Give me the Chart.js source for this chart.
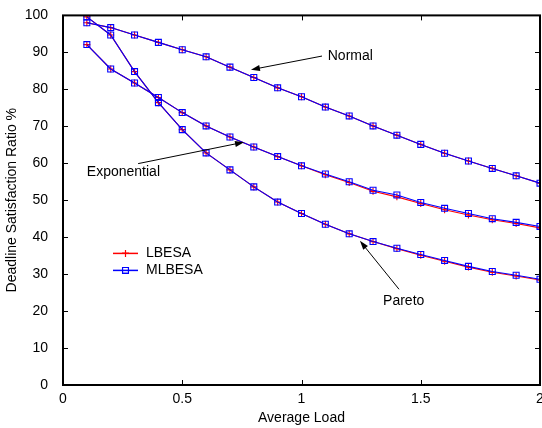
<!DOCTYPE html>
<html>
<head>
<meta charset="utf-8">
<script src="https://cdn.jsdelivr.net/npm/chart.js@4"></script>
<style>
  html, body { margin: 0; padding: 0; background: #fff; overflow: hidden; }
  #wrap { width: 542px; height: 428px; overflow: hidden; }
</style>
</head>
<body>
<div id="wrap"><canvas id="chart" width="552" height="428"></canvas></div>
<script>
'use strict';

// Charge moyenne (axe X)
const loads = [0.1, 0.2, 0.3, 0.4, 0.5, 0.6, 0.7, 0.8, 0.9, 1.0,
               1.1, 1.2, 1.3, 1.4, 1.5, 1.6, 1.7, 1.8, 1.9, 2.0];

// Distribution normale
const normalLbesa  = [98.0, 96.7, 94.7, 92.7, 90.7, 88.8, 86.0, 83.2, 80.4, 78.0,
                      75.2, 72.8, 70.1, 67.6, 65.1, 62.7, 60.6, 58.6, 56.6, 54.6];
const normalMlbesa = [98.0, 96.7, 94.7, 92.7, 90.7, 88.8, 86.0, 83.2, 80.4, 78.0,
                      75.2, 72.8, 70.1, 67.6, 65.1, 62.7, 60.6, 58.6, 56.6, 54.6];

// Distribution exponentielle
const expLbesa  = [92.1, 85.5, 81.7, 77.8, 73.7, 70.1, 67.1, 64.4, 61.8, 59.3,
                   56.9, 54.8, 52.4, 50.9, 49.1, 47.4, 46.0, 44.7, 43.7, 42.5];
const expMlbesa = [92.1, 85.5, 81.7, 77.8, 73.7, 70.1, 67.1, 64.4, 61.8, 59.3,
                   57.1, 55.0, 52.7, 51.4, 49.4, 47.8, 46.4, 45.0, 44.0, 42.9];

// Distribution de Pareto
const paretoLbesa  = [99.6, 94.7, 84.8, 76.4, 69.1, 62.8, 58.2, 53.6, 49.5, 46.4,
                      43.5, 40.9, 38.8, 36.9, 35.1, 33.5, 31.9, 30.5, 29.5, 28.4];
const paretoMlbesa = [99.6, 94.7, 84.8, 76.4, 69.1, 62.8, 58.2, 53.6, 49.5, 46.4,
                      43.5, 40.9, 38.8, 37.0, 35.3, 33.7, 32.1, 30.7, 29.7, 28.6];

// Ticks des axes
const xTicks = [0, 0.5, 1, 1.5, 2];
const yTicks = [0, 10, 20, 30, 40, 50, 60, 70, 80, 90, 100];

const FONT = '"Liberation Sans", Arial, Helvetica, sans-serif';
const RED = '#ff0000';
const BLUE = '#0000ff';

// Annotations (coordonnées en unités des données)
const notes = [
  { text: 'Normal',      at: [1.11, 88.9],  from: [1.086, 89.0], to: [0.788, 85.3] },
  { text: 'Exponential', at: [0.10, 57.5],  from: [0.315, 59.9], to: [0.759, 65.7] },
  { text: 'Pareto',      at: [1.342, 22.7], from: [1.409, 25.9], to: [1.245, 39.0] },
];

Chart.defaults.font.family = FONT;
Chart.defaults.font.size = 14;
Chart.defaults.color = '#000';

// Une série = une courbe
const series = (label, values, color, style, radius) => ({
  label: label,
  data: loads.map((x, i) => ({ x: x, y: values[i] })),
  borderColor: color,
  backgroundColor: 'rgba(0,0,0,0)',
  borderWidth: 1.1,
  pointStyle: style,
  pointRadius: radius,
  pointBorderColor: color,
  pointBackgroundColor: 'rgba(0,0,0,0)',
  pointBorderWidth: 1.1,
  tension: 0,
});

// MLBESA en premier pour être dessiné au-dessus
const datasets = [
  series('MLBESA', normalMlbesa, BLUE, 'rect', 4.2),
  series('MLBESA', expMlbesa, BLUE, 'rect', 4.2),
  series('MLBESA', paretoMlbesa, BLUE, 'rect', 4.2),
  series('LBESA', normalLbesa, RED, 'cross', 3.5),
  series('LBESA', expLbesa, RED, 'cross', 3.5),
  series('LBESA', paretoLbesa, RED, 'cross', 3.5),
];

// Cadre, ticks intérieurs, flèches et légende
const decorations = {
  id: 'decorations',
  afterDraw(chart) {
    const { ctx, chartArea: a, scales: { x, y } } = chart;
    ctx.save();

    // Cadre
    ctx.strokeStyle = '#000';
    ctx.lineWidth = 2;
    ctx.strokeRect(a.left, a.top, a.right - a.left, a.bottom - a.top);

    // Ticks vers l'intérieur sur les quatre côtés
    ctx.lineWidth = 1;
    ctx.beginPath();
    xTicks.forEach((v) => {
      const px = Math.round(x.getPixelForValue(v)) + 0.5;
      ctx.moveTo(px, a.bottom); ctx.lineTo(px, a.bottom - 5);
      ctx.moveTo(px, a.top); ctx.lineTo(px, a.top + 5);
    });
    yTicks.forEach((v) => {
      const py = Math.round(y.getPixelForValue(v)) + 0.5;
      ctx.moveTo(a.left, py); ctx.lineTo(a.left + 5, py);
      ctx.moveTo(a.right, py); ctx.lineTo(a.right - 5, py);
    });
    ctx.stroke();

    // Textes et flèches
    ctx.font = '14px ' + FONT;
    ctx.fillStyle = '#000';
    ctx.textBaseline = 'middle';
    ctx.textAlign = 'left';
    notes.forEach((n) => {
      ctx.fillText(n.text, x.getPixelForValue(n.at[0]), y.getPixelForValue(n.at[1]));
      const x0 = x.getPixelForValue(n.from[0]);
      const y0 = y.getPixelForValue(n.from[1]);
      const x1 = x.getPixelForValue(n.to[0]);
      const y1 = y.getPixelForValue(n.to[1]);
      const ang = Math.atan2(y1 - y0, x1 - x0);
      ctx.beginPath();
      ctx.moveTo(x0, y0);
      ctx.lineTo(x1 - 6 * Math.cos(ang), y1 - 6 * Math.sin(ang));
      ctx.stroke();
      ctx.beginPath();
      ctx.moveTo(x1, y1);
      ctx.lineTo(x1 - 9 * Math.cos(ang) + 3 * Math.sin(ang), y1 - 9 * Math.sin(ang) - 3 * Math.cos(ang));
      ctx.lineTo(x1 - 9 * Math.cos(ang) - 3 * Math.sin(ang), y1 - 9 * Math.sin(ang) + 3 * Math.cos(ang));
      ctx.closePath();
      ctx.fill();
    });

    // Légende
    const legend = [datasets[3], datasets[0]];
    legend.forEach((ds, i) => {
      const ly = a.top + 238 + i * 17;
      const lx = a.left + 50;
      ctx.strokeStyle = ds.borderColor;
      ctx.lineWidth = 1.5;
      ctx.beginPath();
      ctx.moveTo(lx, ly);
      ctx.lineTo(lx + 25, ly);
      ctx.stroke();
      ctx.fillStyle = 'rgba(0,0,0,0)';
      ctx.lineWidth = ds.pointBorderWidth;
      Chart.helpers.drawPoint(ctx, {
        pointStyle: ds.pointStyle,
        radius: ds.pointRadius,
        borderWidth: ds.pointBorderWidth,
      }, lx + 12.5, ly);
      ctx.stroke();
      ctx.fillStyle = '#000';
      ctx.fillText(ds.label, lx + 33, ly);
    });

    ctx.restore();
  },
};

const configuration = {
  type: 'line',
  data: { datasets: datasets },
  options: {
    responsive: false,
    animation: false,
    devicePixelRatio: 1,
    layout: { padding: { top: 11, right: 12, left: 0, bottom: 0 } },
    plugins: {
      legend: { display: false },
      tooltip: { enabled: false },
    },
    scales: {
      x: {
        type: 'linear',
        min: 0,
        max: 2,
        afterBuildTicks: (s) => { s.ticks = xTicks.map((v) => ({ value: v })); },
        afterFit: (s) => { s.height = 43; },
        grid: { display: false },
        border: { display: false },
        ticks: { padding: -2, maxRotation: 0, autoSkip: false, callback: (v) => String(v) },
        title: { display: true, text: 'Average Load', padding: { top: 0, bottom: 1 } },
      },
      y: {
        type: 'linear',
        min: 0,
        max: 100,
        afterBuildTicks: (s) => { s.ticks = yTicks.map((v) => ({ value: v })); },
        afterFit: (s) => { s.width = 63; },
        grid: { display: false },
        border: { display: false },
        ticks: { padding: 7, autoSkip: false, callback: (v) => String(v) },
        title: { display: true, text: 'Deadline Satisfaction Ratio %', padding: { top: 4, bottom: 0 } },
      },
    },
  },
  plugins: [decorations],
};

new Chart(document.getElementById('chart').getContext('2d'), configuration);
</script>
</body>
</html>
